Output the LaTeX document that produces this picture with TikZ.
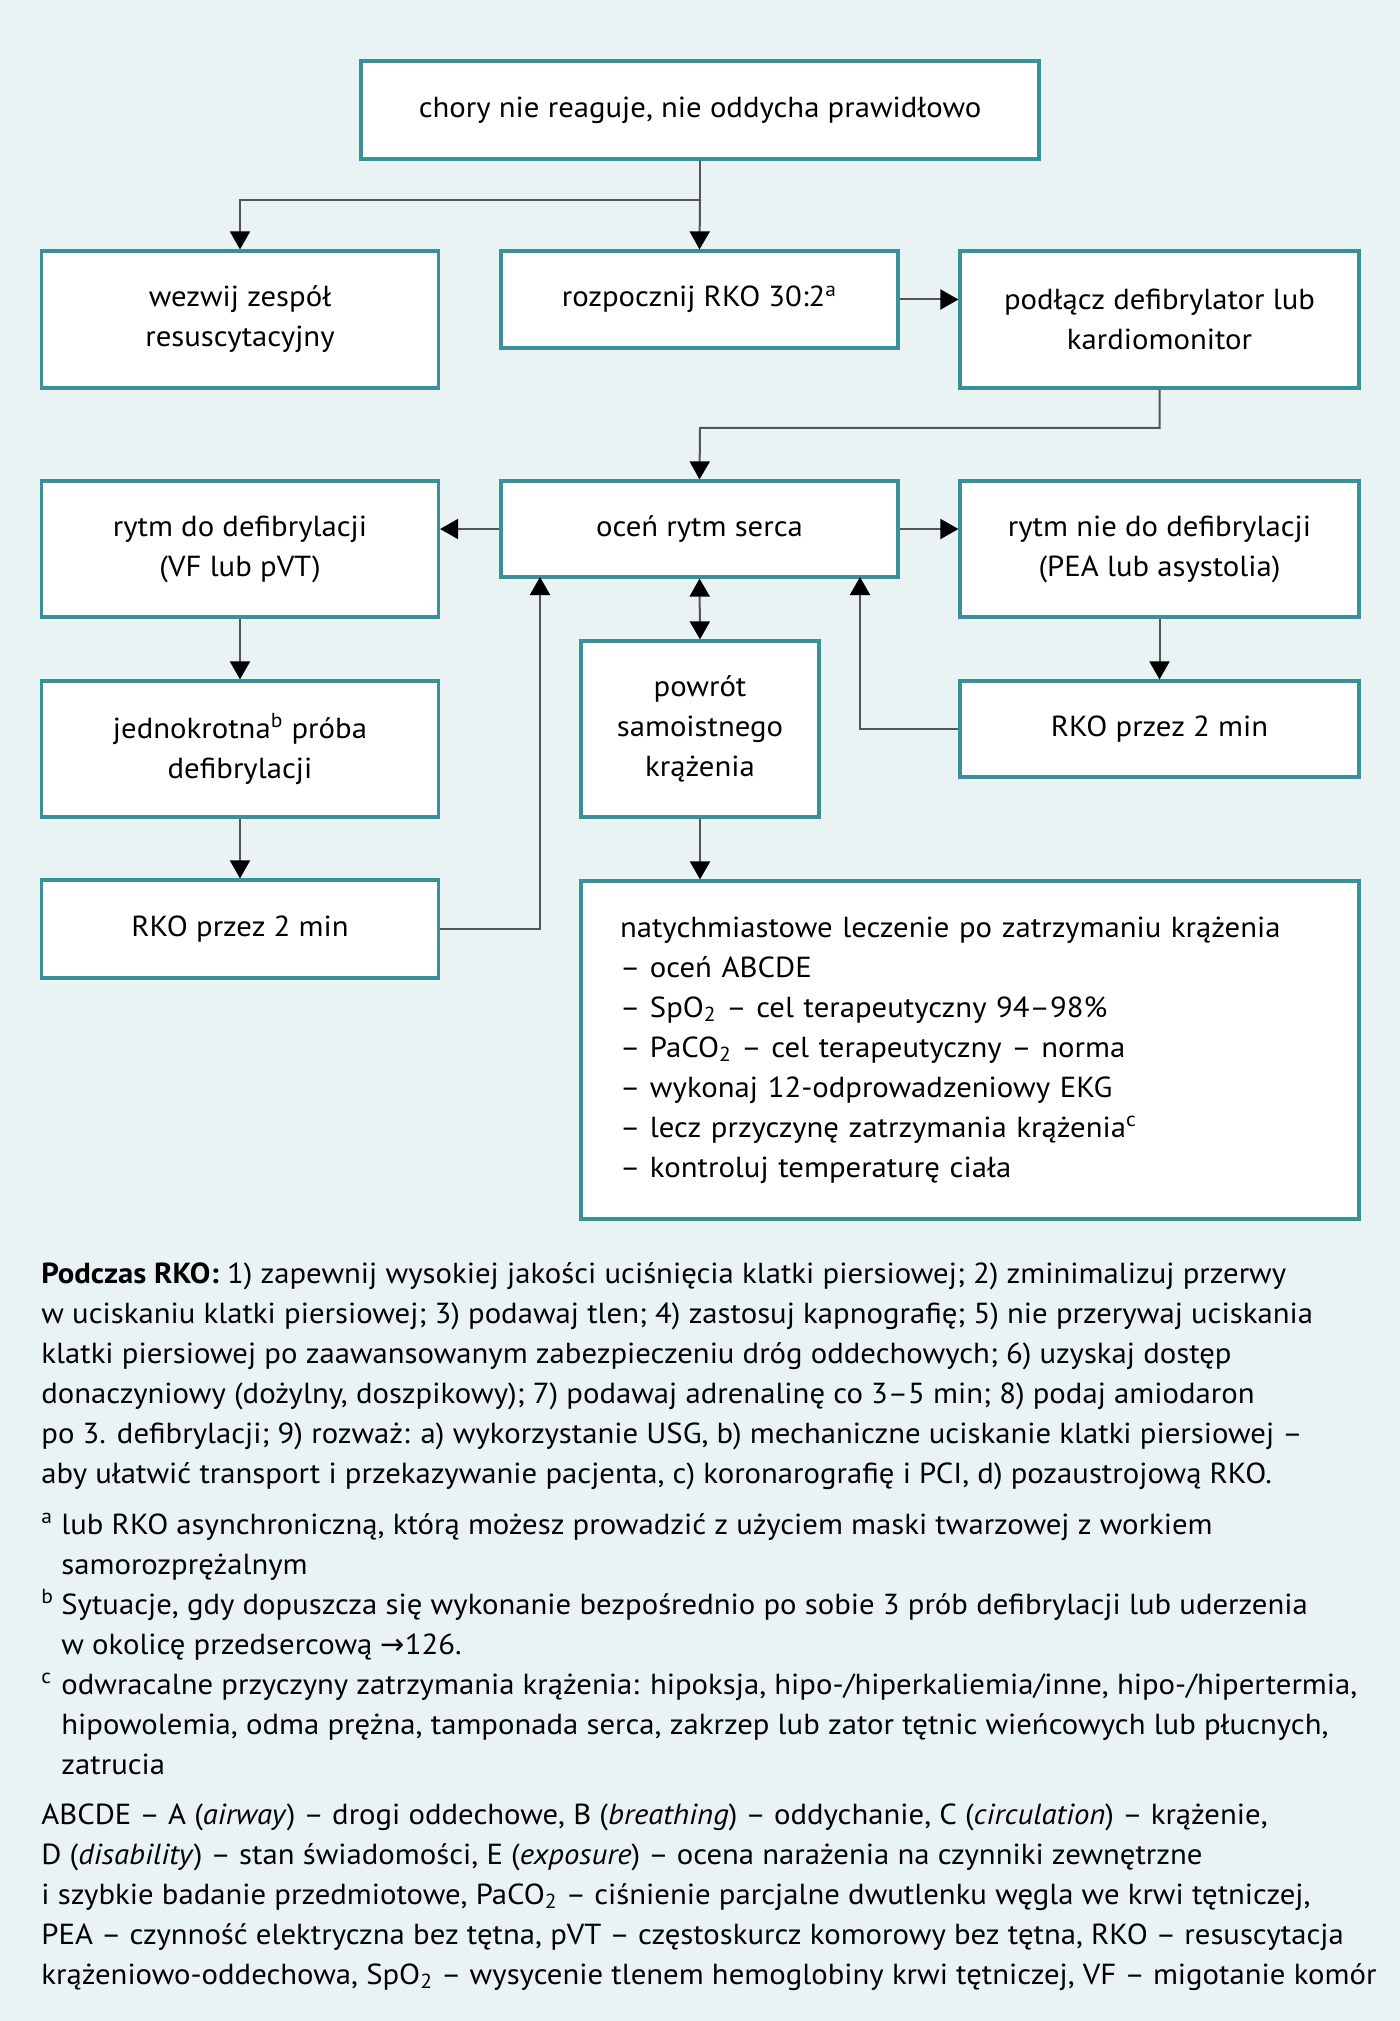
\documentclass[tikz,border=0pt]{standalone}
\usepackage{fontspec}
\setmainfont[FakeStretch=1.06]{PT Sans}
\newfontfamily\arrowfont{DejaVu Sans}
\usetikzlibrary{arrows.meta}
\definecolor{bg}{HTML}{E9F3F4}
\definecolor{frame}{HTML}{3A9098}
\definecolor{wire}{HTML}{555555}
\tikzset{
  box/.style={draw=frame, line width=1.6pt, fill=white, align=center, inner sep=0pt,
    font=\fontsize{14.5}{20}\selectfont},
  link/.style={draw=wire, line width=1pt, -{Triangle[length=9pt, width=10pt, color=black]}},
  twoway/.style={link, {Triangle[length=9pt, width=10pt, color=black]}-{Triangle[length=9pt, width=10pt, color=black]}},
  note/.style={anchor=north west, align=left, inner sep=0pt, font=\fontsize{14.5}{20}\selectfont}
}
\begin{document}
\begin{tikzpicture}[x=0.5pt, y=-0.5pt]
    \fill[bg] (0,0) rectangle (1400,2021);

    \node[box, minimum width=339pt, minimum height=49pt] (A) at (700,110) {chory nie reaguje, nie oddycha prawidłowo};
    \node[box, minimum width=198.5pt, minimum height=68.5pt] (B) at (240,319.5) {wezwij zespół\\resuscytacyjny};
    \node[box, minimum width=198.5pt, minimum height=48.5pt] (C) at (699.5,299.5) {rozpocznij RKO 30:2\textsuperscript{a}};
    \node[box, minimum width=199.5pt, minimum height=68.5pt] (D) at (1159.5,319.5) {podłącz defibrylator lub\\kardiomonitor};
    \node[box, minimum width=198.5pt, minimum height=68pt] (E) at (240,549) {rytm do defibrylacji\\(VF lub pVT)};
    \node[box, minimum width=198.5pt, minimum height=48pt] (F) at (699.5,529) {oceń rytm serca};
    \node[box, minimum width=199.5pt, minimum height=68pt] (G) at (1159.5,549) {rytm nie do defibrylacji\\(PEA lub asystolia)};
    \node[box, minimum width=198.5pt, minimum height=68pt] (H) at (240,749) {jednokrotna\textsuperscript{b} próba\\defibrylacji};
    \node[box, minimum width=119pt, minimum height=88pt] (I) at (700,729) {powrót\\samoistnego\\krążenia};
    \node[box, minimum width=199.5pt, minimum height=48pt] (J) at (1159.5,729) {RKO przez 2 min};
    \node[box, minimum width=198.5pt, minimum height=49pt] (K) at (240,929) {RKO przez 2 min};
    \node[box, minimum width=389pt, minimum height=169pt, align=left, text width=350pt] (L) at (970,1050)
      {natychmiastowe leczenie po zatrzymaniu krążenia\\
       – oceń ABCDE\\
       – SpO\textsubscript{2} – cel terapeutyczny 94–98\%\\
       – PaCO\textsubscript{2} – cel terapeutyczny – norma\\
       – wykonaj 12-odprowadzeniowy EKG\\
       – lecz przyczynę zatrzymania krążenia\textsuperscript{c}\\
       – kontroluj temperaturę ciała};

    \coordinate (a1) at (700,200);
    \coordinate (d1) at (700,428);
    \coordinate (f1) at (540,577);
    \coordinate (f2) at (860,577);

    \draw[link] (A.south) -- (a1) -| (B.north);
    \draw[link] (a1) -- (C.north);
    \draw[link] (C.east) -- (C.east -| D.west);
    \draw[link] (D.south) |- (d1) -- (F.north);
    \draw[link] (F.west) -- (F.west -| E.east);
    \draw[link] (F.east) -- (F.east -| G.west);
    \draw[link] (E.south) -- (H.north);
    \draw[link] (H.south) -- (K.north);
    \draw[link] (G.south) -- (J.north);
    \draw[link] (K.east) -| (f1);
    \draw[link] (J.west) -| (f2);
    \draw[twoway] (F.south) -- (I.north);
    \draw[link] (I.south) -- (I.south |- L.north);

    \node[note] (P) at (41,1255) {\strut\textbf{Podczas RKO:} 1) zapewnij wysokiej jakości uciśnięcia klatki piersiowej; 2) zminimalizuj przerwy\\
      w uciskaniu klatki piersiowej; 3) podawaj tlen; 4) zastosuj kapnografię; 5) nie przerywaj uciskania\\
      klatki piersiowej po zaawansowanym zabezpieczeniu dróg oddechowych; 6) uzyskaj dostęp\\
      donaczyniowy (dożylny, doszpikowy); 7) podawaj adrenalinę co 3–5 min; 8) podaj amiodaron\\
      po 3. defibrylacji; 9) rozważ: a) wykorzystanie USG, b) mechaniczne uciskanie klatki piersiowej –\\
      aby ułatwić transport i przekazywanie pacjenta, c) koronarografię i PCI, d) pozaustrojową RKO.};
    \node[note] (Na) at (41,1506) {\strut\makebox[10pt][l]{\textsuperscript{a}}lub RKO asynchroniczną, którą możesz prowadzić z użyciem maski twarzowej z workiem\\
      \hspace*{10pt}samorozprężalnym};
    \node[note] (Nb) at (41,1586) {\strut\makebox[10pt][l]{\textsuperscript{b}}Sytuacje, gdy dopuszcza się wykonanie bezpośrednio po sobie 3 prób defibrylacji lub uderzenia\\
      \hspace*{10pt}w okolicę przedsercową {\arrowfont →}126.};
    \node[note] (Nc) at (41,1666) {\strut\makebox[10pt][l]{\textsuperscript{c}}odwracalne przyczyny zatrzymania krążenia: hipoksja, hipo-/hiperkaliemia/inne, hipo-/hipertermia,\\
      \hspace*{10pt}hipowolemia, odma prężna, tamponada serca, zakrzep lub zator tętnic wieńcowych lub płucnych,\\
      \hspace*{10pt}zatrucia};
    \node[note] (Q) at (41,1796) {\strut ABCDE – A (\textit{airway}) – drogi oddechowe, B (\textit{breathing}) – oddychanie, C (\textit{circulation}) – krążenie,\\
      D (\textit{disability}) – stan świadomości, E (\textit{exposure}) – ocena narażenia na czynniki zewnętrzne\\
      i szybkie badanie przedmiotowe, PaCO\textsubscript{2} – ciśnienie parcjalne dwutlenku węgla we krwi tętniczej,\\
      PEA – czynność elektryczna bez tętna, pVT – częstoskurcz komorowy bez tętna, RKO – resuscytacja\\
      krążeniowo-oddechowa, SpO\textsubscript{2} – wysycenie tlenem hemoglobiny krwi tętniczej, VF – migotanie komór};
\end{tikzpicture}
\end{document}
